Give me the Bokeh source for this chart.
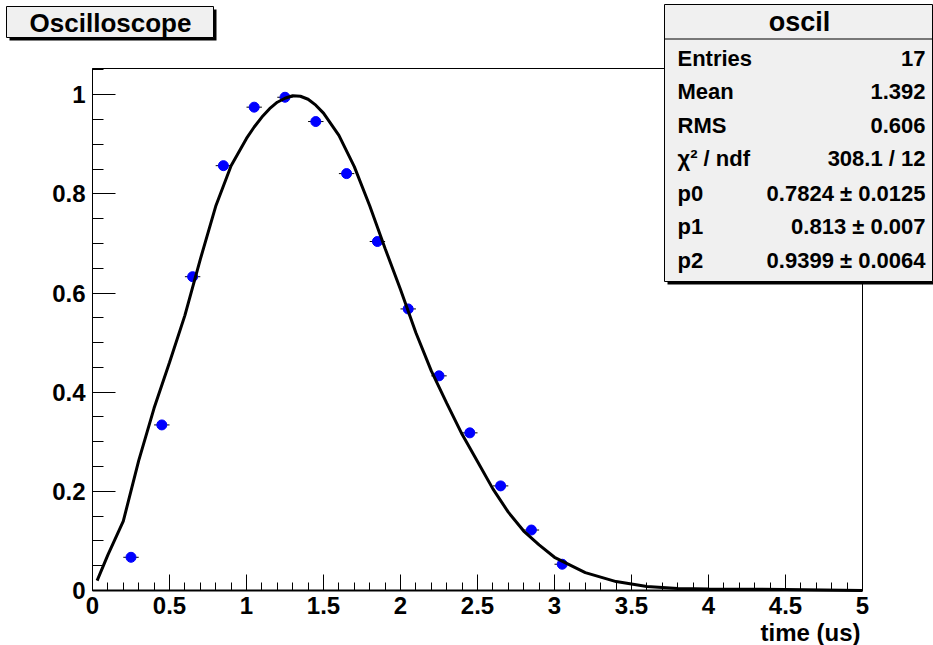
from bokeh.plotting import figure
from bokeh.models import (Range1d, BoxAnnotation, Label, SingleIntervalTicker,
                          CustomJSTickFormatter, LinearAxis)
from bokeh.embed import file_html
from bokeh.resources import INLINE

# ---------------- data ----------------
bin_x = [0.25, 0.45, 0.65, 0.85, 1.05, 1.25, 1.45, 1.65, 1.85, 2.05,
         2.25, 2.45, 2.65, 2.85, 3.05]
bin_y = [0.067, 0.334, 0.633, 0.857, 0.975, 0.995, 0.946, 0.841, 0.704, 0.568,
         0.433, 0.318, 0.211, 0.122, 0.053]
x_err = [0.05, 0.05, 0.05, 0.05, 0.05, 0.05, 0.05, 0.05, 0.05, 0.05,
         0.05, 0.05, 0.05, 0.05, 0.05]

fit_x = [0.03, 0.1, 0.2, 0.3, 0.4, 0.5, 0.6, 0.7, 0.8, 0.9, 1.0, 1.05, 1.1,
         1.15, 1.2, 1.25, 1.3, 1.35, 1.4, 1.45, 1.5, 1.6, 1.7, 1.8, 1.9, 2.0,
         2.1, 2.2, 2.3, 2.4, 2.5, 2.6, 2.7, 2.8, 2.9, 3.0, 3.2, 3.4, 3.6, 3.8,
         4.0, 4.5, 5.0]
fit_y = [0.02, 0.072, 0.14, 0.262, 0.368, 0.46, 0.555, 0.668, 0.775, 0.857,
         0.912, 0.935, 0.955, 0.972, 0.985, 0.993, 0.998, 0.997, 0.991, 0.979,
         0.963, 0.918, 0.855, 0.776, 0.69, 0.607, 0.52, 0.443, 0.378, 0.315,
         0.26, 0.205, 0.158, 0.12, 0.092, 0.067, 0.036, 0.018, 0.008, 0.004,
         0.003, 0.002, 0.0]

title_text = "Oscilloscope"
x_title = "time (us)"
stats_name = "oscil"
stats_labels = ["Entries", "Mean", "RMS", "\u03c7\u00b2 / ndf", "p0", "p1", "p2"]
stats_values = ["17", "1.392", "0.606", "308.1 / 12", "0.7824 \u00b1 0.0125",
                "0.813 \u00b1 0.007", "0.9399 \u00b1 0.0064"]

X_MIN, X_MAX = 0.0, 5.0
Y_MIN, Y_MAX = 0.0, 1.053

# ---------------- layout ----------------
W, H = 933, 645
FL, FR, FT, FB = 92, 862, 68, 590   # frame edges in canvas pixels
FONT = "Liberation Sans"

kx = (FR - FL) / (X_MAX - X_MIN)
ky = (FB - FT) / (Y_MAX - Y_MIN)

p = figure(width=W, height=H, output_backend="svg", toolbar_location=None,
           x_axis_location=None, y_axis_location=None,
           x_range=Range1d(X_MIN - FL / kx, X_MAX + (W - FR) / kx),
           y_range=Range1d(Y_MIN - (H - FB) / ky, Y_MAX + FT / ky),
           min_border=0)
p.min_border_left = 0
p.min_border_right = 0
p.min_border_top = 0
p.min_border_bottom = 0
p.background_fill_color = "white"
p.border_fill_color = "white"
p.outline_line_color = None
p.xgrid.visible = False
p.ygrid.visible = False

fmt = CustomJSTickFormatter(code="return String(+tick.toFixed(2));")

xaxis = LinearAxis(fixed_location=Y_MIN, bounds=(X_MIN, X_MAX),
                   ticker=SingleIntervalTicker(interval=0.5, num_minor_ticks=5))
yaxis = LinearAxis(fixed_location=X_MIN, bounds=(Y_MIN, Y_MAX),
                   ticker=SingleIntervalTicker(interval=0.2, num_minor_ticks=4))
for ax in (xaxis, yaxis):
    ax.formatter = fmt
    ax.major_tick_out = 0
    ax.minor_tick_out = 0
    ax.major_tick_line_color = "black"
    ax.minor_tick_line_color = "black"
    ax.axis_line_color = "black"
    ax.major_label_text_font = FONT
    ax.major_label_text_font_style = "bold"
    ax.major_label_text_font_size = "24px"
    ax.major_label_text_color = "black"
    ax.major_label_standoff = 6
xaxis.major_tick_in = 16
xaxis.minor_tick_in = 8
xaxis.axis_line_width = 2
yaxis.major_tick_in = 23
yaxis.minor_tick_in = 11
yaxis.axis_line_width = 1
yaxis.major_label_standoff = 7
p.add_layout(xaxis, "below")
p.add_layout(yaxis, "left")

# data points with horizontal error bars
x0 = [a - e for a, e in zip(bin_x, x_err)]
x1 = [a + e for a, e in zip(bin_x, x_err)]
p.segment(x0=x0, y0=bin_y, x1=x1, y1=bin_y, line_color="black", line_width=1)
p.scatter(bin_x, bin_y, size=10, fill_color="#0000ff", line_color="#0000ff")

# fitted curve
p.line(fit_x, fit_y, line_color="black", line_width=3)

# frame outline (top / right)
p.add_layout(BoxAnnotation(left=X_MIN, right=X_MAX, bottom=Y_MIN, top=Y_MAX,
                           fill_alpha=0, line_color="black", line_width=1,
                           line_alpha=1))


def box(l, t, r, b, fill, line="black", lw=1):
    p.add_layout(BoxAnnotation(left=l, right=r, top=H - t, bottom=H - b,
                               left_units="screen", right_units="screen",
                               top_units="screen", bottom_units="screen",
                               fill_color=fill, fill_alpha=1.0,
                               line_color=line if line else "black",
                               line_alpha=1.0 if line else 0,
                               line_width=lw))


def text(px, py, s, size, align="left"):
    p.add_layout(Label(x=px, y=H - py, x_units="screen", y_units="screen",
                       text=s, text_font=FONT, text_font_style="bold",
                       text_font_size=size, text_color="black",
                       text_align=align, text_baseline="middle"))


# x axis title
text(860, 632, x_title, "24px", "right")

# title box
box(9, 9, 216, 40, "black", None)
box(6, 6, 213, 37, "#f0f0f0")
text(110, 22, title_text, "26px", "center")

# stats box
box(667, 7, 936, 284, "black", None)
box(664, 4, 932, 281, "#f0f0f0")
box(664, 38, 932, 39, "black", None)
text(799, 21, stats_name, "27px", "center")
row_y = [58, 91, 125, 158, 193, 226, 260]
for yy, lab, val in zip(row_y, stats_labels, stats_values):
    text(677, yy, lab, "22px", "left")
    text(925, yy, val, "22px", "right")

open("out.html", "w").write(file_html(p, INLINE))
